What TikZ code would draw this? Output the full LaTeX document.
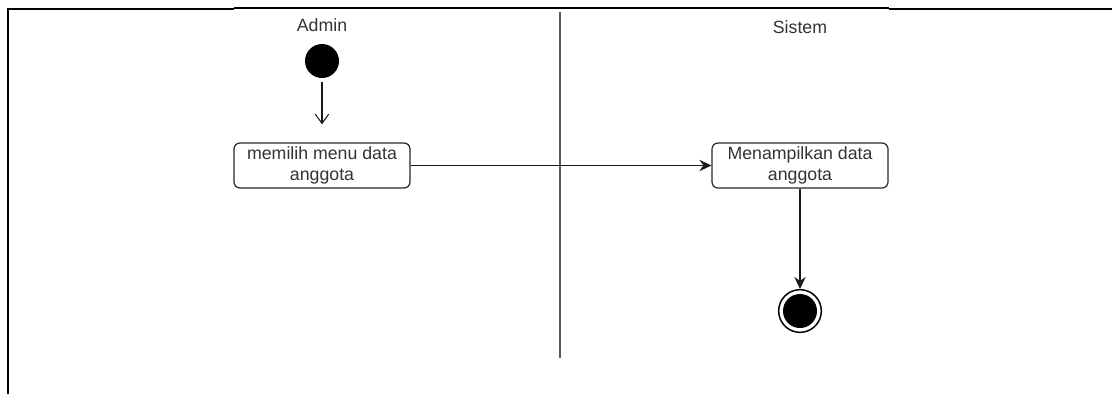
\documentclass[tikz,border=0pt]{standalone}
\usepackage{fontspec}
\setmainfont{Liberation Sans}
\usetikzlibrary{arrows.meta, positioning, shapes}

\begin{document}
\begin{tikzpicture}[
    x=0.75pt, y=-0.75pt,
    every node/.style={font=\fontsize{13.3}{15.5}\selectfont, align=center, text=black!80},
    action/.style={draw=black!85, line width=0.9pt, rounded corners=4.5pt,
                   minimum width=132pt, minimum height=33.75pt, inner sep=1pt},
    startdot/.style={circle, fill=black, minimum size=25.5pt, inner sep=0pt},
    endring/.style={circle, draw=black, fill=white, line width=1.1pt, minimum size=32pt, inner sep=0pt},
    flow/.style={-{Stealth[length=9pt, width=8.5pt, inset=3pt]}, black!90, line width=0.9pt},
    openflow/.style={-{Straight Barb[length=7pt, width=10pt]}, black!90, line width=0.8pt},
    frame/.style={line width=1.5pt, black}
]
\useasboundingbox (0,0) rectangle (1112,394);

% frame and lanes
\draw[frame] (8,394) -- (8,9) -- (234,9);
\draw[black, line width=0.8pt] (234,8) -- (889,8);
\draw[frame] (889,9) -- (1112,9);
\draw[black!65, line width=0.9pt] (560,12) -- (560,358);

\node (admin) at (322,25) {Admin};
\node (sistem) at (800,27) {Sistem};

% activities
\node[startdot] (start) at (322,61) {};
\node[action] (act1) at (322,165.5) {memilih menu data\\anggota};
\node[action] (act2) at (800,165.5) {Menampilkan data\\anggota};
\node[endring] (end) at (800,311) {};
\node[startdot] (enddot) at (end) {};

\draw[openflow, shorten <=3pt] (start) -- ([yshift=13.5pt]act1.north);
\draw[flow] (act1) -- (act2);
\draw[flow] (act2) -- (end);
\end{tikzpicture}
\end{document}
